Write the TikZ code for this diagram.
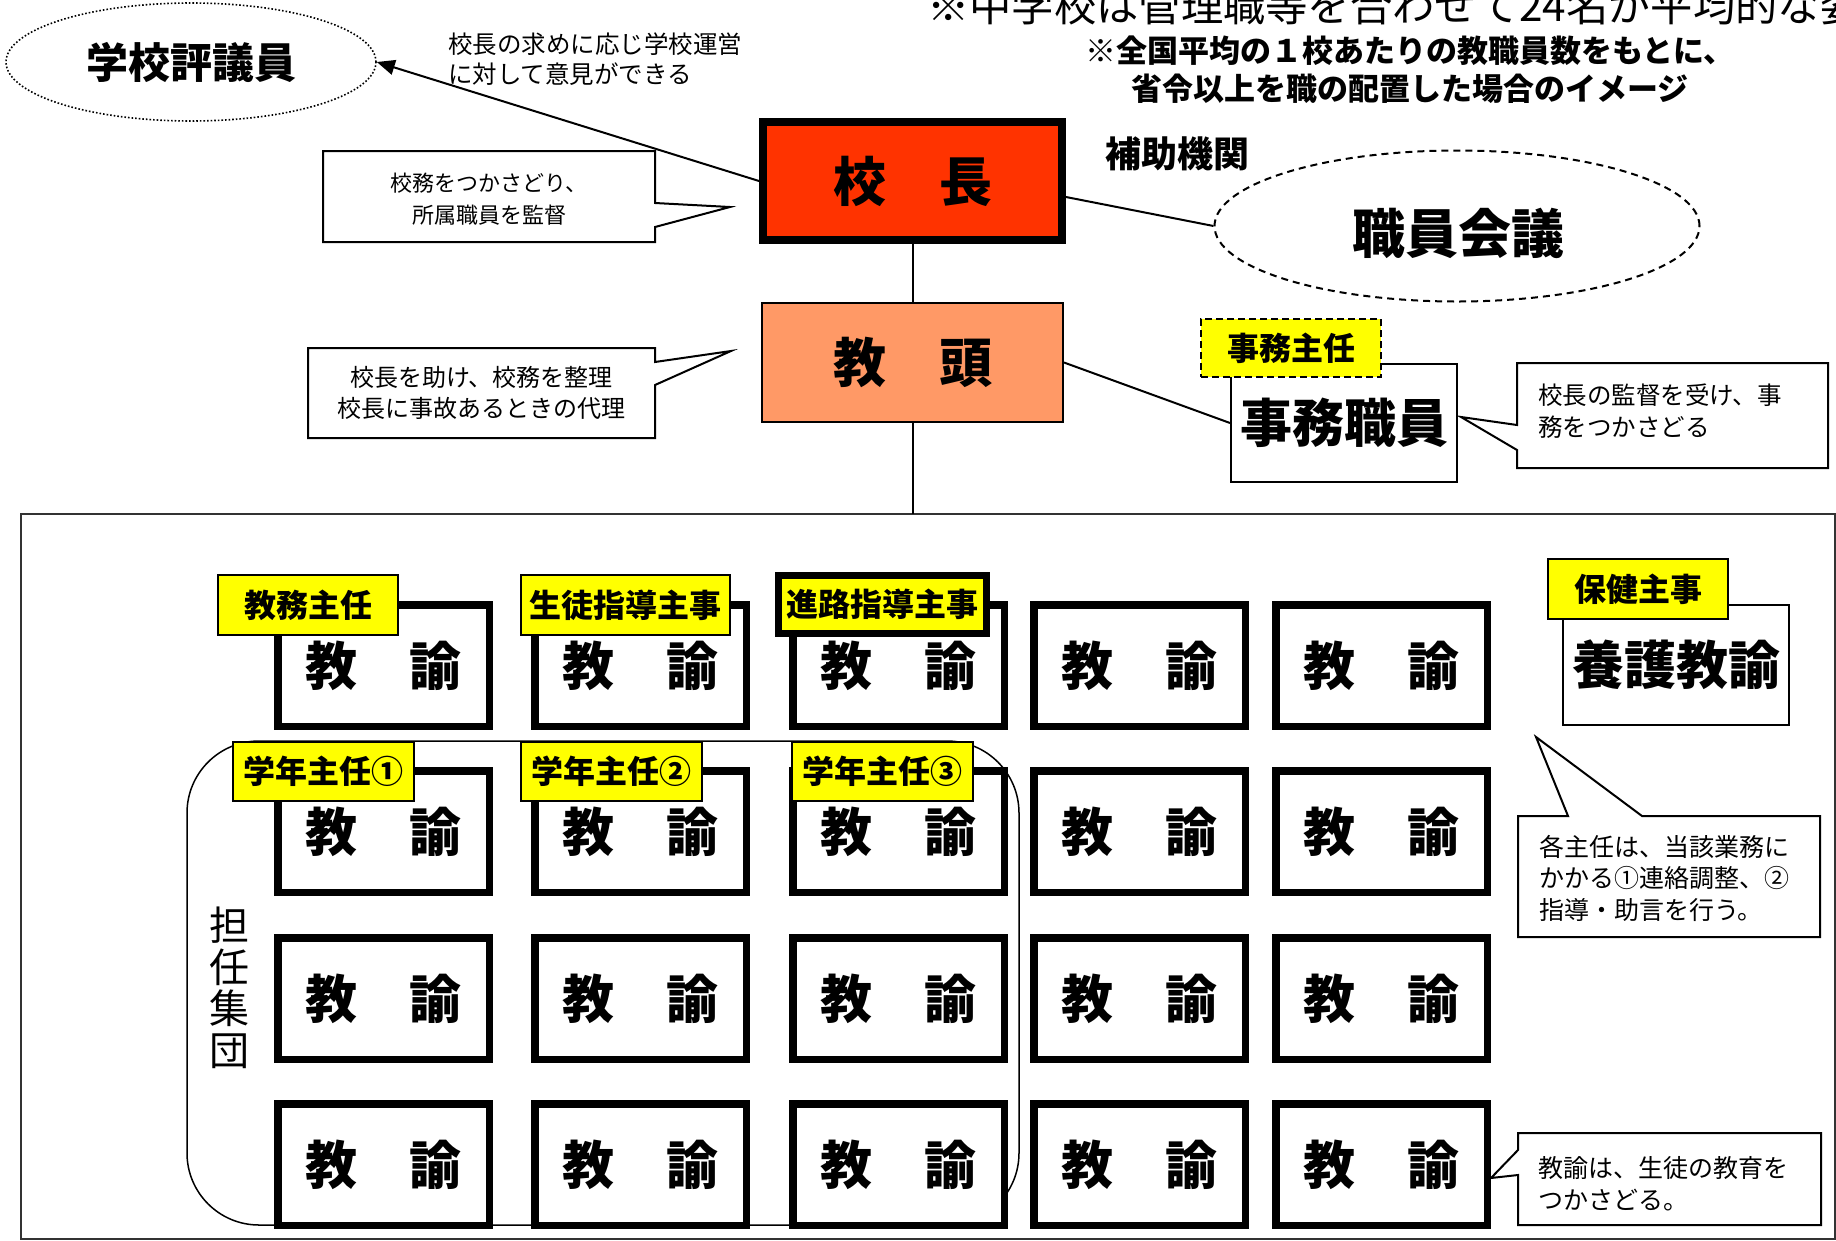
\documentclass[tikz,border=0pt]{standalone}
\usepackage{fontspec}
\setmainfont{Noto Sans CJK JP}
\usetikzlibrary{shapes.geometric,arrows.meta,calc}
\newcommand\fsz[2]{\fontsize{#1}{#2}\selectfont}
\definecolor{kred}{HTML}{FF3300}
\definecolor{korange}{HTML}{FF9966}
\definecolor{kyellow}{HTML}{FFFF00}
\definecolor{framegray}{HTML}{333333}
\tikzset{
  teacher/.style={draw, line width=7.5pt, fill=white, minimum width=211.5pt, minimum height=121.5pt, inner sep=0pt, font=\bfseries\fsz{52}{52}},
  tlabel/.style={draw, line width=2pt, fill=kyellow, inner sep=0pt, minimum height=60pt, font=\bfseries\fsz{32}{32}},
  callout/.style={draw, line width=2pt, fill=white, line join=miter},
  ctext/.style={inner sep=0pt},
  conn/.style={line width=2pt},
  bigbox/.style={draw, inner sep=0pt, font=\bfseries\fsz{53}{53}},
}
\begin{document}
\begin{tikzpicture}[x=1pt,y=-1pt]
\useasboundingbox (0,0) rectangle (1836,1240);

% title
\begin{scope}
\clip (0,0) rectangle (1836,1240);
\node[anchor=base west, inner sep=0pt, font=\fsz{42.3}{42.3}] (title1) at (927,21) {※中学校は管理職等を合わせて24名が平均的な姿};
\end{scope}
\node[align=center, inner sep=0pt, font=\bfseries\fsz{31}{38}] (title2) at (1410,70) {※全国平均の１校あたりの教職員数をもとに、\\省令以上を職の配置した場合のイメージ};

% outer frame and group
\node[draw=framegray, line width=2pt, minimum width=1814pt, minimum height=725pt, inner sep=0pt] (frame) at (928,876.5) {};
\node[draw, line width=1.5pt, rounded corners=72pt, minimum width=832pt, minimum height=484pt, inner sep=0pt] (group) at (603,983) {};
\node[align=center, inner sep=0pt, font=\fsz{40}{41.5}] (grouplab) at (229,988) {担\\任\\集\\団};

% top nodes
\node[draw, ellipse, dotted, line width=1.6pt, minimum width=370pt, minimum height=118pt, inner sep=0pt, font=\bfseries\fsz{42}{42}] (hyogi) at (191,62) {学校評議員};
\node[anchor=west, align=left, inner sep=0pt, font=\fsz{24.5}{30}] (hyogitxt) at (448,59) {校長の求めに応じ学校運営\\に対して意見ができる};

\node[bigbox, fill=kred, line width=8pt, minimum width=299pt, minimum height=118pt] (kocho) at (912.5,181) {\raisebox{-2pt}{校　長}};
\node[bigbox, fill=korange, line width=2pt, minimum width=301pt, minimum height=119pt] (kyoto) at (912.5,362.5) {\raisebox{-2pt}{教　頭}};

\node[inner sep=0pt, font=\bfseries\fsz{36}{36}] (hojo) at (1177,154) {補助機関};
\node[draw, ellipse, dashed, dash pattern=on 7pt off 5pt, line width=2pt, minimum width=485pt, minimum height=151pt, inner sep=0pt] (kaigi) at (1457,226) {};
\node[inner sep=0pt, font=\bfseries\fsz{53}{53}] (kaigitxt) at (1458,233) {職員会議};

\node[bigbox, fill=white, line width=2pt, minimum width=226pt, minimum height=118pt, font=\bfseries\fsz{52}{52}] (jimu) at (1344,423) {\raisebox{-6pt}{事務職員}};
\node[tlabel, dashed, dash pattern=on 7pt off 4pt, minimum width=180pt, minimum height=58pt] (jimushunin) at (1291,348) {事務主任};

% connectors
\draw[conn, -{Triangle[length=18pt,width=15pt]}] (kocho.west) -- (hyogi.east);
\draw[conn] (kocho.south) -- (kyoto.north);
\coordinate (ftop) at (912.5,514);
\draw[conn] (kyoto.south) -- (ftop);
\draw[conn] ($(kocho.east)+(0,16)$) -- (kaigi.west);
\draw[conn] (kyoto.east) -- (jimu.west);

% callouts
\draw[callout] (323,151) -- (655,151) -- (655,203) -- (730,207) -- (655,227) -- (655,242) -- (323,242) -- cycle;
\node[align=center, ctext, font=\fsz{22}{32}] (c1) at (489,199) {校務をつかさどり、\\所属職員を監督};

\draw[callout] (308,348) -- (655,348) -- (655,362) -- (731,351) -- (655,385) -- (655,438) -- (308,438) -- cycle;
\node[align=center, ctext, font=\fsz{24}{31}] (c2) at (481.5,392.5) {校長を助け、校務を整理\\校長に事故あるときの代理};

\draw[callout] (1517,363) -- (1828,363) -- (1828,468) -- (1517,468) -- (1517,450) -- (1461,417) -- (1517,425) -- cycle;
\node[anchor=west, align=left, ctext, font=\fsz{24.5}{32}] (c3) at (1538,411) {校長の監督を受け、事\\務をつかさどる};

\draw[callout] (1518,816) -- (1568,816) -- (1536,737) -- (1642,816) -- (1820,816) -- (1820,937) -- (1518,937) -- cycle;
\node[anchor=west, align=left, ctext, font=\fsz{25}{31.5}] (c4) at (1539,878) {各主任は、当該業務に\\かかる①連絡調整、②\\指導・助言を行う。};

\draw[callout] (1518,1133) -- (1821,1133) -- (1821,1225) -- (1518,1225) -- (1518,1175) -- (1491,1178) -- (1518,1150) -- cycle;
\node[anchor=west, align=left, ctext, font=\fsz{25}{32}] (c5) at (1538,1184) {教諭は、生徒の教育を\\つかさどる。};

% teachers
\foreach \c/\x in {1/383.5, 2/640.5, 3/898.5, 4/1139.5, 5/1381.5}{
  \foreach \r/\y in {1/665.5, 2/831.5, 3/998.5, 4/1164.5}{
    \node[teacher] (t\r\c) at (\x,\y) {\raisebox{-3pt}{教　諭}};
  }
}
\node[bigbox, fill=white, line width=2pt, minimum width=226pt, minimum height=120pt, font=\bfseries\fsz{52}{52}] (yogo) at (1676,665) {\raisebox{-5pt}{養護教諭}};

% labels
\node[tlabel, minimum width=180pt] (l1) at (308,605) {教務主任};
\node[tlabel, minimum width=209pt] (l2) at (625.5,605) {生徒指導主事};
\node[tlabel, line width=7pt, minimum width=208pt, minimum height=58pt] (l3) at (882.5,604.5) {進路指導主事};
\node[tlabel, minimum width=180pt] (l4) at (1638,589) {保健主事};
\node[tlabel, minimum width=181pt, minimum height=59pt] (g1) at (323.5,771.5) {学年主任①};
\node[tlabel, minimum width=181pt, minimum height=59pt] (g2) at (611,771.5) {学年主任②};
\node[tlabel, minimum width=181pt, minimum height=59pt] (g3) at (882.5,771.5) {学年主任③};
\end{tikzpicture}
\end{document}
